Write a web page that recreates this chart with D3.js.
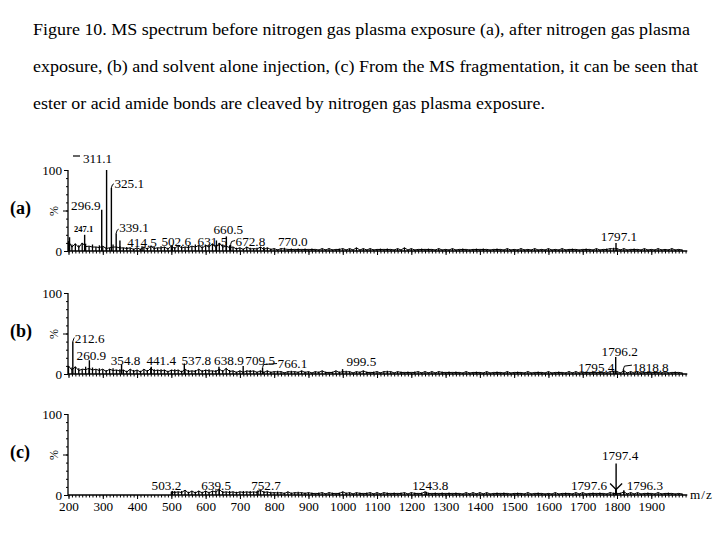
<!DOCTYPE html>
<html><head><meta charset="utf-8">
<script src="https://cdn.jsdelivr.net/npm/d3@7"></script>
<style>
body{margin:0;background:#fff;}
svg{display:block;}
text{font-family:"Liberation Serif","Times New Roman",serif;fill:#000;}
</style></head>
<body>
<script>
// ---------------- DATA ----------------
const titleLines = [
  "Figure 10. MS spectrum before nitrogen gas plasma exposure (a), after nitrogen gas plasma",
  "exposure, (b) and solvent alone injection, (c) From the MS fragmentation, it can be seen that",
  "ester or acid amide bonds are cleaved by nitrogen gas plasma exposure."
];
const panelNames = ["(a)", "(b)", "(c)"];
const xTickValues = [200,300,400,500,600,700,800,900,1000,1100,1200,1300,1400,1500,1600,1700,1800,1900];
const yTickLabels = [0, 100];
const xAxisTitle = "m/z";
const yAxisTitle = "%";

// baseline noise, one value (% intensity) per 10 m/z from the given start
const noiseStartA = 200;
const noiseA = [
 12,8,9,7,10,9,6,8,5,7, 6,5,4,8,5,6,4,5,4,3, 4,3,5,4,6,5,4,6,5,4, 6,5,7,6,5,7,6,8,7,6,
 7,8,9,7,10,8,6,7,5,4, 4,3,5,4,3,4,5,3,4,3, 3,2,3,4,2,3,2,3,2,3, 2,3,2,2,3,2,3,2,2,3,
 3,2,3,2,4,2,3,2,3,2, 2,3,2,3,2,2,3,2,4,2, 3,2,2,3,2,3,2,2,3,2, 2,2,3,2,2,3,2,2,2,3,
 2,3,2,2,2,3,2,2,3,2, 2,2,3,2,2,2,3,2,2,2, 3,2,2,2,3,2,2,3,2,2, 2,3,2,2,3,2,2,3,3,4,
 3,2,3,2,2,3,2,2,3,2, 2,2,3,2,2,2,3,2,2,2
];
const noiseStartB = 200;
const noiseB = [
 10,8,9,7,6,9,7,8,6,7, 6,5,6,7,5,6,5,4,6,5, 5,4,6,5,7,6,5,6,5,4, 5,6,5,4,6,5,4,5,6,5,
 5,6,4,5,6,5,7,5,4,3, 4,3,4,5,4,3,4,3,4,3, 3,4,3,2,3,4,3,3,4,3, 3,2,3,3,4,3,2,3,4,3,
 3,4,3,2,3,3,4,3,2,3, 3,2,3,4,3,2,3,3,2,3, 2,3,3,2,3,2,3,2,3,3, 2,3,2,3,2,2,3,2,2,3,
 2,2,3,2,2,3,2,2,3,2, 2,3,2,2,3,2,2,3,2,2, 3,2,2,3,2,2,3,2,3,2, 2,3,2,3,2,3,2,2,3,4,
 3,2,4,2,3,2,3,2,2,3, 2,3,2,2,3,2,2,3,2,2
];
const noiseStartC = 500;
const noiseC = [
 4,5,4,5,6,4,5,4,5,4, 5,4,5,6,7,5,4,5,4,4, 4,5,4,5,4,5,6,5,4,4, 3,4,3,3,4,3,3,4,3,3,
 3,3,2,3,3,2,3,3,2,3, 4,3,3,2,3,3,2,3,3,2, 3,2,3,3,2,3,2,3,3,2, 3,3,2,3,4,3,2,3,2,3,
 2,3,2,3,2,2,3,2,3,2, 3,2,3,2,2,3,2,3,2,2, 2,3,2,2,3,2,2,3,2,2, 2,2,3,2,2,3,2,2,3,2,
 3,2,2,3,2,3,2,2,3,3, 2,3,4,2,3,2,3,2,2,3, 2,2,3,2,2,3,2,2,2,2
];

// labelled / main peaks: m/z, % intensity, label
const peaksA_mz    = [203, 247.1, 296.9, 311.1, 325.1, 339.1, 350, 414.5, 502.6, 631.5, 660.5, 672.8, 770.0, 1797.1];
const peaksA_int   = [17, 20, 51, 100, 78, 22, 13, 6, 7, 13, 18, 8, 5, 10];
const peaksA_label = [null, "247.1", "296.9", "311.1", "325.1", "339.1", null, "414.5", "502.6", "631.5", "660.5", "672.8", "770.0", "1797.1"];

const peaksB_mz    = [212.6, 260.9, 354.8, 441.4, 537.8, 638.9, 709.5, 766.1, 999.5, 1795.4, 1796.2, 1818.8];
const peaksB_int   = [40, 17, 12, 9, 13, 9, 10, 8, 6, 5, 21, 6];
const peaksB_label = ["212.6", "260.9", "354.8", "441.4", "537.8", "638.9", "709.5", "766.1", "999.5", "1795.4", "1796.2", "1818.8"];

const peaksC_mz    = [503.2, 639.5, 752.7, 1243.8, 1797.4, 1797.6, 1796.3, 1820];
const peaksC_int   = [5, 6, 6, 4, 39, 8, 8, 6];
const peaksC_label = ["503.2", "639.5", "752.7", "1243.8", "1797.4", "1797.6", "1796.3", null];

// ---------------- LAYOUT (positions / styles, not data) ----------------
const W = 725, H = 537;
const FS = 13.2;
const labelLayout = {
  "(a)": {
    "247.1": {dx:-1, dy:-3, anchor:"middle", small:true},
    "296.9": {dx:-1, dy:0, anchor:"end"},
    "311.1": {dx:-9, dy:-7, anchor:"middle"},
    "325.1": {dx:3, dy:0, anchor:"start", hook:true},
    "339.1": {dx:3, dy:-1.5, anchor:"start", hook:true},
    "414.5": {dx:0, dy:0.8, anchor:"middle"},
    "502.6": {dx:4, dy:1, anchor:"middle"},
    "631.5": {dx:-4, dy:5.5, anchor:"middle"},
    "660.5": {dx:2, dy:-2.5, anchor:"middle"},
    "672.8": {dx:5, dy:1.5, anchor:"start", hook:true},
    "770.0": {dx:14, dy:-1, anchor:"start"},
    "1797.1": {dx:3, dy:-2, anchor:"middle"}
  },
  "(b)": {
    "212.6": {dx:2, dy:1.5, anchor:"start", hook:true},
    "260.9": {dx:2, dy:0, anchor:"middle"},
    "354.8": {dx:4, dy:1, anchor:"middle"},
    "441.4": {dx:10, dy:-1.5, anchor:"middle"},
    "537.8": {dx:12, dy:1.5, anchor:"middle"},
    "638.9": {dx:10, dy:-1.5, anchor:"middle"},
    "709.5": {dx:17, dy:-1, anchor:"middle"},
    "766.1": {dx:15, dy:0.5, anchor:"start", hook:true},
    "999.5": {dx:4, dy:-3, anchor:"start"},
    "1795.4": {dx:-1, dy:2, anchor:"end"},
    "1796.2": {dx:4, dy:-1, anchor:"middle"},
    "1818.8": {dx:9, dy:3, anchor:"start", hook:true}
  },
  "(c)": {
    "503.2": {dx:-6, dy:-1, anchor:"middle"},
    "639.5": {dx:-3, dy:0, anchor:"middle"},
    "752.7": {dx:8, dy:0, anchor:"middle"},
    "1243.8": {dx:4, dy:-2, anchor:"middle"},
    "1797.4": {dx:4, dy:-3.5, anchor:"middle"},
    "1797.6": {dx:-9, dy:1.5, anchor:"end", arrow:-1},
    "1796.3": {dx:11, dy:1.5, anchor:"start", arrow:1}
  }
};
const panelBase = [251, 374, 495];   // pixel y of 0 %
const panelHeight = 81;               // pixels for 100 %

const svg = d3.select("body").append("svg").attr("width", W).attr("height", H);

// title
const titleWidths = [657, 665, 512];
titleLines.forEach((t, i) => {
  svg.append("text").attr("x", 33).attr("y", 35 + i * 37)
    .attr("font-size", 16.5).attr("textLength", titleWidths[i]).attr("lengthAdjust", "spacingAndGlyphs")
    .text(t);
});

const x = d3.scaleLinear().domain([200, 1800]).range([68.5, 617]);
const xEnd = 2005;

const panels = [
  {name: panelNames[0], noiseStart: noiseStartA, noise: noiseA, mz: peaksA_mz, it: peaksA_int, lab: peaksA_label},
  {name: panelNames[1], noiseStart: noiseStartB, noise: noiseB, mz: peaksB_mz, it: peaksB_int, lab: peaksB_label},
  {name: panelNames[2], noiseStart: noiseStartC, noise: noiseC, mz: peaksC_mz, it: peaksC_int, lab: peaksC_label}
];

panels.forEach((p, pi) => {
  const y0 = panelBase[pi];
  const y = d3.scaleLinear().domain([0, 100]).range([y0, y0 - panelHeight]);
  const g = svg.append("g");
  const axX = x(200) - 0.5;

  // panel label
  g.append("text").attr("x", 10).attr("y", y0 - 37).attr("font-size", 18).attr("font-weight", "bold").text(p.name);
  // % label
  g.append("text").attr("transform", `translate(58,${y0 - 40}) rotate(-90)`)
    .attr("text-anchor", "middle").attr("font-size", 12).text(yAxisTitle);

  // y axis: minor ticks
  const yMinor = d3.axisLeft(y).tickValues(d3.range(0, 101, 10)).tickSize(2).tickFormat("");
  g.append("g").attr("transform", `translate(${axX},0)`).call(yMinor).call(s => s.select(".domain").remove());
  const yMid = d3.axisLeft(y).tickValues([50]).tickSize(5).tickFormat("");
  g.append("g").attr("transform", `translate(${axX},0)`).call(yMid).call(s => s.select(".domain").remove());
  const yMajor = d3.axisLeft(y).tickValues(yTickLabels).tickSize(4).tickPadding(2).tickFormat(d3.format("d"));
  g.append("g").attr("transform", `translate(${axX},0)`).call(yMajor)
    .call(s => s.select(".domain").remove())
    .call(s => s.selectAll("text").attr("font-size", FS).attr("font-family", '"Liberation Serif",serif').attr("fill", "#000"));
  g.append("line").attr("x1", axX).attr("x2", axX).attr("y1", y(0)).attr("y2", y(100)).attr("stroke", "#000").attr("stroke-width", 1.3);

  // x axis line + ticks
  g.append("line").attr("x1", axX).attr("x2", x(xEnd)).attr("y1", y0).attr("y2", y0).attr("stroke", "#000").attr("stroke-width", 1.5);
  const xMinor = d3.axisBottom(x).tickValues(d3.range(200, 2001, 10)).tickSize(2.5).tickFormat("");
  g.append("g").attr("transform", `translate(0,${y0})`).call(xMinor).call(s => s.select(".domain").remove());
  const xMajor = d3.axisBottom(x).tickValues(xTickValues).tickSize(4).tickPadding(3)
    .tickFormat(pi === 2 ? d3.format("d") : "");
  g.append("g").attr("transform", `translate(0,${y0})`).call(xMajor)
    .call(s => s.select(".domain").remove())
    .call(s => s.selectAll("text").attr("font-size", FS).attr("font-family", '"Liberation Serif",serif').attr("fill", "#000"));

  // noise sticks
  g.append("g").selectAll("line").data(p.noise).join("line")
    .attr("x1", (d, i) => x(p.noiseStart + i * 10)).attr("x2", (d, i) => x(p.noiseStart + i * 10))
    .attr("y1", y0).attr("y2", d => y(d)).attr("stroke", "#000").attr("stroke-width", 1.3);
  // noise envelope
  const env = d3.line().x((d, i) => x(p.noiseStart + i * 10)).y((d, i) => y(d * (i % 2 ? 0.6 : 1)));
  g.append("path").attr("d", env(p.noise)).attr("fill", "none").attr("stroke", "#000").attr("stroke-width", 1);

  // peaks
  const peaks = p.mz.map((m, i) => ({mz: m, v: p.it[i], label: p.lab[i]}));
  g.append("g").selectAll("line").data(peaks).join("line")
    .attr("x1", d => x(d.mz)).attr("x2", d => x(d.mz))
    .attr("y1", y0).attr("y2", d => y(d.v)).attr("stroke", "#000").attr("stroke-width", 1.4);

  const lay = labelLayout[p.name];
  peaks.filter(d => d.label).forEach(d => {
    const L = lay[d.label];
    const px = x(d.mz), py = y(d.v);
    const t = g.append("text").attr("x", px + L.dx).attr("y", py + L.dy)
      .attr("text-anchor", L.anchor).text(d.label);
    if (L.small) t.attr("font-family", '"Liberation Sans",Arial,sans-serif').attr("font-weight", "bold").attr("font-size", 8.5);
    else t.attr("font-size", FS);
    if (L.hook) {
      g.append("path").attr("d", `M${px},${py} L${px + 1},${py - 3} L${px + L.dx - 0.5},${py - 4}`)
        .attr("fill", "none").attr("stroke", "#000").attr("stroke-width", 1);
    }
    if (L.arrow) {
      const xc = x(1797.4);
      g.append("line").attr("x1", xc + L.arrow * 6).attr("y1", py - 5).attr("x2", xc).attr("y2", py + 1)
        .attr("stroke", "#000").attr("stroke-width", 1.3);
    }
  });

  if (pi === 2) {
    g.append("text").attr("x", 690).attr("y", y0 + 4).attr("font-size", FS)
      .attr("letter-spacing", 1).text(xAxisTitle);
  }
  if (pi === 0) {
    // small scan mark above the base peak
    g.append("line").attr("x1", 73).attr("x2", 80).attr("y1", 156).attr("y2", 156).attr("stroke", "#000").attr("stroke-width", 1.2);
  }
});
</script>
</body></html>
